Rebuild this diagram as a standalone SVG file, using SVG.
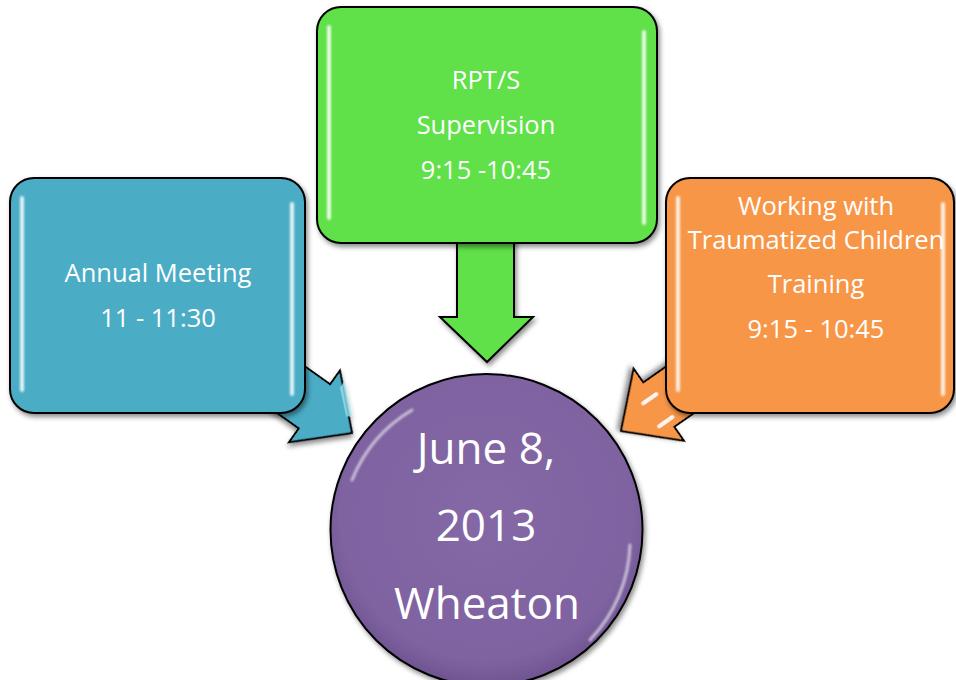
<svg xmlns="http://www.w3.org/2000/svg" width="956" height="680" viewBox="0 0 956 680">
  <defs>
    <filter id="shadow" x="-10%" y="-10%" width="120%" height="125%">
      <feDropShadow dx="2" dy="3" stdDeviation="2.5" flood-color="#000" flood-opacity="0.45"/>
    </filter>
    <filter id="soft" x="-50%" y="-10%" width="200%" height="120%">
      <feGaussianBlur stdDeviation="0.8"/>
    </filter>
    <radialGradient id="gCircle" cx="50%" cy="45%" r="55%">
      <stop offset="0" stop-color="#8468A6"/>
      <stop offset="0.85" stop-color="#7F63A1"/>
      <stop offset="1" stop-color="#6E5490"/>
    </radialGradient>
  </defs>
  <style>
    .box { stroke: #000; stroke-width: 2; }
    .arrow { stroke: #000; stroke-width: 2; stroke-linejoin: miter; }
    .hl { fill: #fff; opacity: 0.85; }
    .arc { fill: none; stroke: #fff; stroke-width: 3; stroke-linecap: round; opacity: 0.6; }
    .t { font-family: "Open Sans", "Noto Sans", "Liberation Sans", sans-serif; fill: #fff; text-anchor: middle; }
    .small { font-size: 25.5px; }
    .big { font-size: 44px; }
  </style>

  <g id="connectors">
    <g id="arrow-blue" transform="translate(352,433) rotate(35.4)" filter="url(#shadow)">
      <path class="arrow" fill="#4BACC6" d="M0,0 L-46,-44 L-46,-27 L-150,-27 L-150,27 L-46,27 L-46,44 Z"/>
      <path fill="#9BE3F0" opacity="0.8" d="M-10,-14 L-36,-38 L-36,-30 L-14,-10 Z"/>
    </g>
    <g id="arrow-green" filter="url(#shadow)">
      <path class="arrow" fill="#61E04A" d="M457,235 L514,235 L514,317 L533,317 L487,362 L440,317 L457,317 Z"/>
    </g>
    <g id="arrow-orange" transform="translate(621,431) rotate(145.1)" filter="url(#shadow)">
      <path class="arrow" fill="#F79646" d="M0,0 L-46,-44 L-46,-27 L-150,-27 L-150,27 L-46,27 L-46,44 Z"/>
      <rect fill="#fff" opacity="0.9" x="-52" y="-20" width="20" height="4" rx="2"/>
      <rect fill="#fff" opacity="0.9" x="-52" y="8" width="20" height="4" rx="2"/>
    </g>
  </g>

  <g id="node-annual">
    <rect class="box" x="10" y="178" width="295" height="235" rx="24" fill="#4BACC6" filter="url(#shadow)"/>
    <rect class="hl" x="20" y="196" width="4" height="196" rx="2" filter="url(#soft)"/>
    <rect class="hl" x="290" y="202" width="4" height="194" rx="2" filter="url(#soft)"/>
    <text class="t small" x="158" y="282">Annual Meeting</text>
    <text class="t small" x="158" y="327">11 - 11:30</text>
  </g>

  <g id="node-rpts">
    <rect class="box" x="317" y="7" width="340" height="236" rx="24" fill="#61E04A" filter="url(#shadow)"/>
    <rect class="hl" x="327" y="25" width="4" height="195" rx="2" filter="url(#soft)"/>
    <rect class="hl" x="642" y="30" width="4" height="195" rx="2" filter="url(#soft)"/>
    <text class="t small" x="486" y="89">RPT/S</text>
    <text class="t small" x="486" y="134">Supervision</text>
    <text class="t small" x="486" y="179">9:15 -10:45</text>
  </g>

  <g id="node-trauma">
    <rect class="box" x="666" y="178" width="288" height="235" rx="24" fill="#F79646" filter="url(#shadow)"/>
    <rect class="hl" x="676" y="196" width="4" height="196" rx="2" filter="url(#soft)"/>
    <rect class="hl" x="941" y="202" width="4" height="194" rx="2" filter="url(#soft)"/>
    <text class="t small" x="816" y="215">Working with</text>
    <text class="t small" x="816" y="249">Traumatized Children</text>
    <text class="t small" x="816" y="293">Training</text>
    <text class="t small" x="816" y="338">9:15 - 10:45</text>
  </g>

  <g id="node-date">
    <circle cx="486.5" cy="530" r="156" fill="url(#gCircle)" stroke="#000" stroke-width="2" filter="url(#shadow)"/>
    <path class="arc" d="M352,480 A144,144 0 0 1 412,410" filter="url(#soft)"/>
    <path class="arc" d="M630,545 A144,144 0 0 1 590,640" filter="url(#soft)"/>
    <text class="t big" x="486" y="464">June 8,</text>
    <text class="t big" x="486" y="541">2013</text>
    <text class="t big" x="487" y="619">Wheaton</text>
  </g>
</svg>
